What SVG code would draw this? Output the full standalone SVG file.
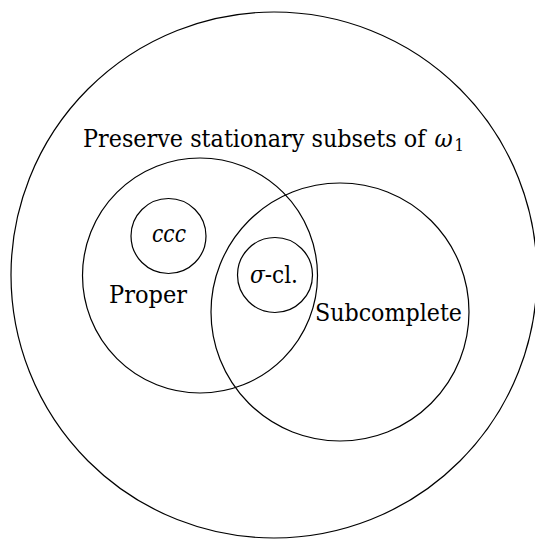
<svg xmlns="http://www.w3.org/2000/svg" width="535" height="540" viewBox="0 0 535 540">
<style>
.c{fill:none;stroke:#000;stroke-width:1.2}
text{font-family:'DejaVu Serif',serif;font-size:24px;fill:#000}
.i{font-style:italic}
</style>
<rect width="535" height="540" fill="#fff"/>
<g id="preserve">
<circle class="c" cx="274" cy="275" r="263"/>
<text x="83" y="147" textLength="381" lengthAdjust="spacingAndGlyphs">Preserve stationary subsets of <tspan class="i" dx="2">ω</tspan><tspan dx="2" dy="4" style="font-size:16px">1</tspan></text>
</g>
<g id="proper">
<circle class="c" cx="200" cy="275.5" r="117.5"/>
<text x="109" y="303" textLength="78" lengthAdjust="spacingAndGlyphs">Proper</text>
</g>
<g id="subcomplete">
<circle class="c" cx="340" cy="312" r="129"/>
<text x="315" y="321" textLength="147" lengthAdjust="spacingAndGlyphs">Subcomplete</text>
</g>
<g id="ccc">
<circle class="c" cx="168.5" cy="236" r="37.5"/>
<text class="i" x="152" y="242" textLength="34" lengthAdjust="spacingAndGlyphs">ccc</text>
</g>
<g id="sigma">
<circle class="c" cx="275" cy="275" r="37.5"/>
<text x="250" y="283" textLength="48" lengthAdjust="spacingAndGlyphs"><tspan class="i">σ</tspan>-cl.</text>
</g>
<g id="connectors"/>
</svg>
